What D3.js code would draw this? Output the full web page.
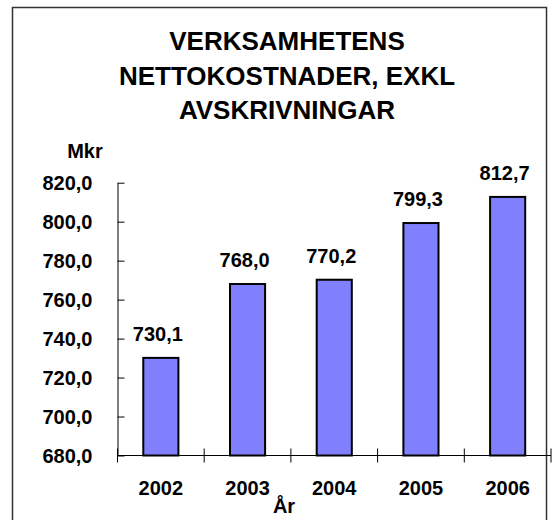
<!DOCTYPE html>
<html lang="sv">
<head>
  <meta charset="UTF-8">
  <title>Verksamhetens nettokostnader</title>
  <script src="https://d3js.org/d3.v7.min.js"></script>
  <style>
    body { margin: 0; background: #fff; }
    svg { display: block; font-family: "Liberation Sans", Arial, sans-serif; font-weight: bold; }
    .tick text { font-size: 20px; font-weight: bold; fill: #000; }
    .bar { fill: #8080ff; stroke: #000; stroke-width: 2px; }
  </style>
</head>
<body>
  <svg width="559" height="520"></svg>

  <script>
    // Data
    const years = ["2002", "2003", "2004", "2005", "2006"];
    const values = [730.1, 768.0, 770.2, 799.3, 812.7];
    const yTicks = [680, 700, 720, 740, 760, 780, 800, 820];
    const titleLines = ["VERKSAMHETENS", "NETTOKOSTNADER, EXKL", "AVSKRIVNINGAR"];

    const svg = d3.select("svg");
    const width = +svg.attr("width");
    const height = +svg.attr("height");

    // Chart frame
    svg.append("rect")
      .attr("x", 12.5).attr("y", 7.5)
      .attr("width", 534).attr("height", height)
      .attr("fill", "none")
      .attr("stroke", "#333")
      .attr("stroke-width", 1.5);

    // Title
    svg.append("g")
      .selectAll("text")
      .data(titleLines)
      .enter().append("text")
      .attr("x", 287)
      .attr("y", (d, i) => 50 + i * 34.5)
      .attr("text-anchor", "middle")
      .attr("font-size", 26)
      .text(d => d);

    // Scales
    const plot = { left: 117.5, right: 551, top: 182.7, bottom: 455.5 };
    const x = d3.scaleBand()
      .domain(years)
      .range([plot.left, plot.right]);
    const y = d3.scaleLinear()
      .domain([680, 820])
      .range([plot.bottom, plot.top]);

    const fmt = v => d3.format(".1f")(v).replace(".", ",");

    // Y axis with crossing ticks
    const yAxis = svg.append("g")
      .attr("transform", `translate(${plot.left},0)`)
      .call(d3.axisLeft(y).tickValues(yTicks).tickFormat(fmt).tickSize(7).tickSizeOuter(0));
    yAxis.select(".domain").attr("stroke", "#000");
    yAxis.selectAll(".tick line").attr("x2", 7).attr("stroke", "#000");
    yAxis.selectAll(".tick text").attr("x", -25).attr("dy", "0.35em");

    // X axis: ticks at category boundaries
    svg.append("line")
      .attr("x1", plot.left).attr("x2", plot.right)
      .attr("y1", plot.bottom).attr("y2", plot.bottom)
      .attr("stroke", "#000");
    const bounds = years.map(d => x(d)).concat([x(years[years.length - 1]) + x.bandwidth()]);
    svg.append("g")
      .selectAll("line")
      .data(bounds)
      .enter().append("line")
      .attr("x1", d => d).attr("x2", d => d)
      .attr("y1", plot.bottom - 7).attr("y2", plot.bottom + 7)
      .attr("stroke", "#000");

    svg.append("g")
      .selectAll("text")
      .data(years)
      .enter().append("text")
      .attr("x", d => x(d) + x.bandwidth() / 2)
      .attr("y", 495)
      .attr("text-anchor", "middle")
      .attr("font-size", 20)
      .text(d => d);

    // Bars
    const barW = x.bandwidth() * 0.405;
    svg.append("g")
      .selectAll("rect")
      .data(values)
      .enter().append("rect")
      .attr("class", "bar")
      .attr("x", (d, i) => x(years[i]) + (x.bandwidth() - barW) / 2)
      .attr("y", d => y(d))
      .attr("width", barW)
      .attr("height", d => y(680) - y(d));

    // Value labels
    svg.append("g")
      .selectAll("text")
      .data(values)
      .enter().append("text")
      .attr("x", (d, i) => x(years[i]) + x.bandwidth() / 2 - 3)
      .attr("y", d => y(d) - 17)
      .attr("text-anchor", "middle")
      .attr("font-size", 20)
      .text(d => fmt(d));

    // Axis titles
    svg.append("text")
      .attr("x", 85).attr("y", 158)
      .attr("text-anchor", "middle")
      .attr("font-size", 20)
      .text("Mkr");

    svg.append("text")
      .attr("x", 284).attr("y", 513)
      .attr("text-anchor", "middle")
      .attr("font-size", 20)
      .text("År");
  </script>
</body>
</html>
